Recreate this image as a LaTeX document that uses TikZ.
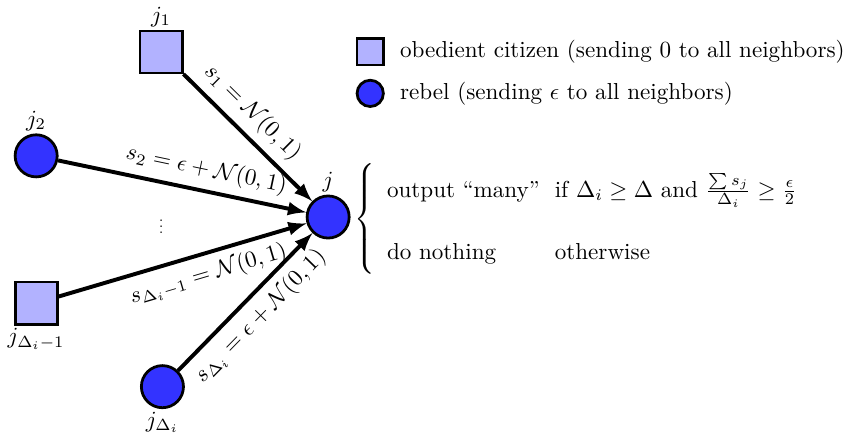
\documentclass[tikz,border=0pt]{standalone}
\usepackage{amsmath,amssymb}

\tikzset{
  citizen/.style={draw, very thick, fill=blue!30, minimum size=0.64cm, inner sep=0pt},
  rebel/.style={circle, draw, very thick, fill=blue!80, minimum size=0.64cm, inner sep=0pt},
  msg/.style={->, line width=1.7pt},
  every label/.style={inner sep=1pt}
}

\begin{document}
\begin{tikzpicture}[>=latex]
  \useasboundingbox (-4.99,-3.31) rectangle (7.86,3.30);

  % -------------------------
  % Ontvanger en buren
  % -------------------------
  \node[rebel, label=above:$j$] (j) at (0,0) {};

  \node[citizen, label=above:$j_1$] (j1) at (-2.54,2.51) {};
  \node[rebel, label=above:$j_2$] (j2) at (-4.44,0.93) {};
  \node[citizen, label=below:$j_{\Delta_i-1}$] (jm) at (-4.44,-1.31) {};
  \node[rebel, label=below:$j_{\Delta_i}$] (jn) at (-2.52,-2.58) {};

  \node[scale=0.65] (dots) at (-2.54,-0.08) {$\vdots$};

  % -------------------------
  % Berichten
  % -------------------------
  \draw[msg] (j1) -- (j)
    node[pos=0.42, sloped, above] {$s_1 = \mathcal{N}(0,1)$};
  \draw[msg] (j2) -- (j)
    node[pos=0.58, sloped, above] {$s_2 = \epsilon + \mathcal{N}(0,1)$};
  \draw[msg] (jm) -- (j)
    node[pos=0.58, sloped, below] {$s_{\Delta_i-1} = \mathcal{N}(0,1)$};
  \draw[msg] (jn) -- (j)
    node[pos=0.5, sloped, below] {$s_{\Delta_i} = \epsilon + \mathcal{N}(0,1)$};

  % -------------------------
  % Beslisregel
  % -------------------------
  \node[anchor=west, inner sep=0pt] (rule) at (0.40,-0.03)
    {$\left\{\begin{array}{@{\hspace{5pt}}l@{\hspace{6.5pt}}l@{}}
      \rule{0pt}{15pt}\text{output ``many''} & \text{if } \Delta_i \geq \Delta \text{ and } \frac{\sum s_j}{\Delta_i} \geq \frac{\epsilon}{2} \\[15pt]
      \rule[-7pt]{0pt}{7pt}\text{do nothing} & \text{otherwise}
    \end{array}\right.$};

  % -------------------------
  % Legenda
  % -------------------------
  \node[citizen, minimum size=0.4cm] (lcitizen) at (0.64,2.51) {};
  \node[rebel, minimum size=0.4cm] (lrebel) at (0.64,1.88) {};

  \node[anchor=west] (tcitizen) at (0.97,2.51) {obedient citizen (sending 0 to all neighbors)};
  \node[anchor=west] (trebel) at (0.97,1.88) {rebel (sending $\epsilon$ to all neighbors)};

\end{tikzpicture}
\end{document}
